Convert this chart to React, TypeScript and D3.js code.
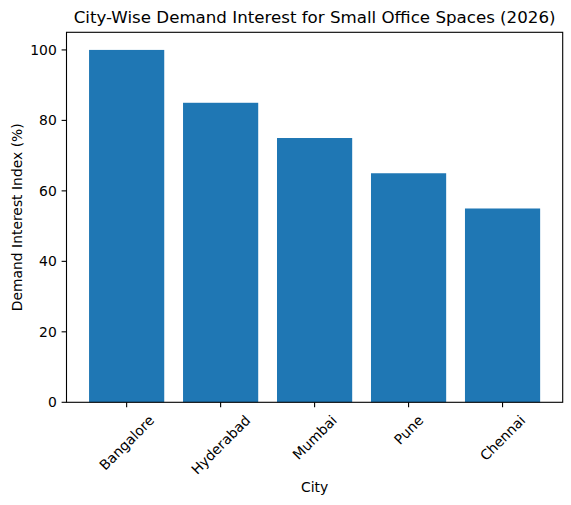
import * as d3 from 'd3'
import React, { useEffect, useRef } from 'react'

const cities = ['Bangalore', 'Hyderabad', 'Mumbai', 'Pune', 'Chennai']
const interest = [100, 85, 75, 65, 55]
const yTicks = [0, 20, 40, 60, 80, 100]

const W = 571
const H = 505
const left = 66.5
const right = 562.7
const top = 32.3
const bottom = 402.3
const font = 'DejaVu Sans, sans-serif'

export default function App() {
    const ref = useRef<SVGSVGElement>(null)

    useEffect(() => {
        const svg = d3.select(ref.current)
        svg.selectAll('*').remove()

        const x = d3.scaleBand<string>()
            .domain(cities)
            .range([left, right])
            .paddingInner(0.2)
            .paddingOuter(0.24)
        const y = d3.scaleLinear().domain([0, 105]).range([bottom, top])

        svg.append('rect').attr('width', W).attr('height', H).attr('fill', '#fff')

        // bars
        svg.append('g')
            .selectAll('rect')
            .data(cities)
            .join('rect')
            .attr('x', d => x(d)!)
            .attr('width', x.bandwidth())
            .attr('y', (d, i) => y(interest[i]))
            .attr('height', (d, i) => y(0) - y(interest[i]))
            .attr('fill', '#1f77b4')

        // y axis
        const ya = svg.append('g')
        yTicks.forEach(t => {
            ya.append('line')
                .attr('x1', left - 4.9).attr('x2', left)
                .attr('y1', y(t)).attr('y2', y(t))
                .attr('stroke', '#000').attr('stroke-width', 1.1)
            ya.append('text')
                .attr('x', left - 9.7).attr('y', y(t))
                .attr('text-anchor', 'end')
                .attr('dominant-baseline', 'central')
                .attr('font-family', font).attr('font-size', 13.9)
                .text(t)
        })

        // x axis ticks + rotated labels
        const xa = svg.append('g')
        cities.forEach(c => {
            const cx = x(c)! + x.bandwidth() / 2
            xa.append('line')
                .attr('x1', cx).attr('x2', cx)
                .attr('y1', bottom).attr('y2', bottom + 4.9)
                .attr('stroke', '#000').attr('stroke-width', 1.1)
            const t = xa.append('text')
                .attr('text-anchor', 'middle')
                .attr('dominant-baseline', 'central')
                .attr('font-family', font).attr('font-size', 13.9)
                .text(c)
            const w = (t.node() as SVGTextElement).getComputedTextLength()
            const h = 13.9 * 1.17
            const bh = (w + h) * Math.SQRT1_2
            t.attr('transform', `translate(${cx},${bottom + 9.7 + bh / 2}) rotate(-45)`)
        })

        // spines
        svg.append('rect')
            .attr('x', left).attr('y', top)
            .attr('width', right - left).attr('height', bottom - top)
            .attr('fill', 'none').attr('stroke', '#000').attr('stroke-width', 1.1)

        // labels
        svg.append('text')
            .attr('x', (left + right) / 2).attr('y', 487)
            .attr('text-anchor', 'middle').attr('dominant-baseline', 'central')
            .attr('font-family', font).attr('font-size', 13.9)
            .text('City')
        svg.append('text')
            .attr('transform', `translate(17,${(top + bottom) / 2}) rotate(-90)`)
            .attr('text-anchor', 'middle').attr('dominant-baseline', 'central')
            .attr('font-family', font).attr('font-size', 13.9)
            .text('Demand Interest Index (%)')
        svg.append('text')
            .attr('x', (left + right) / 2).attr('y', 17)
            .attr('text-anchor', 'middle').attr('dominant-baseline', 'central')
            .attr('font-family', font).attr('font-size', 16.67)
            .text('City-Wise Demand Interest for Small Office Spaces (2026)')
    }, [])

    return (
        <svg ref={ref} width={W} height={H} viewBox={`0 0 ${W} ${H}`}
            style={{ position: 'absolute', left: 0, top: 0 }} />
    )
}
